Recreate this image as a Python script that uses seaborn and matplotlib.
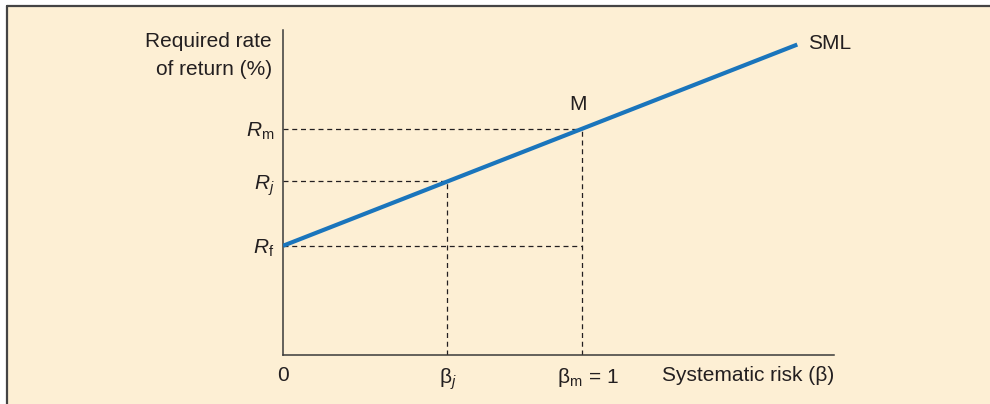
import numpy as np
import pandas as pd
import matplotlib.pyplot as plt
import matplotlib.lines as mlines
import matplotlib.patches as mpatches
import matplotlib.transforms as mtransforms
import seaborn as sns

# security market line values
beta_line = [0.0, 1.72]
rf = 5.6
rm = 11.6
beta_j = 0.55
beta_m = 1.0
r_j = rf + (rm - rf) * beta_j
sml_return = [rf + (rm - rf) * b for b in beta_line]

x_ticks = [0, beta_j, beta_m]
x_tick_labels = ['0', r'$\mathrm{\beta}_j$', r'$\mathrm{\beta}_{\mathrm{m}}\,=\,1$']
y_ticks = [rf, r_j, rm]
y_tick_labels = [r'$R_{\mathrm{f}}$', r'$R_j$', r'$R_{\mathrm{m}}$']

sns.set_theme(style='white')
plt.rcParams['font.family'] = ['Liberation Sans', 'DejaVu Sans']
plt.rcParams['mathtext.fontset'] = 'custom'
plt.rcParams['mathtext.rm'] = 'Liberation Sans'
plt.rcParams['mathtext.it'] = 'Liberation Sans:italic'
plt.rcParams['mathtext.bf'] = 'Liberation Sans:bold'

text_col = '#231f20'
bg = '#fdefd4'
W, H = 990, 404
fs = 15

fig = plt.figure(figsize=(9.9, 4.04), dpi=100, facecolor='white')

# cream panel with dark rule on top and left
fig.patches.append(mpatches.Rectangle((7 / W, 0), 1 - 7 / W, 1 - 6 / H, transform=fig.transFigure,
                                      facecolor=bg, edgecolor='none', zorder=-10))
fig.lines.append(mlines.Line2D([7 / W, 1], [1 - 6 / H, 1 - 6 / H], transform=fig.transFigure,
                               color='#444444', lw=1.6, zorder=-5))
fig.lines.append(mlines.Line2D([7 / W, 7 / W], [0, 1 - 6 / H], transform=fig.transFigure,
                               color='#444444', lw=1.6, zorder=-5))

ax = fig.add_axes([283 / W, (H - 355) / H, (834 - 283) / W, (355 - 30) / H])
ax.set_facecolor('none')
ax.patch.set_alpha(0)

x_px = 299.0
y_px = 19.5
ax.set_xlim(0, (834 - 283) / x_px)
ax.set_ylim(0, (355 - 30) / y_px)

# dashed guide lines
dash = dict(color=text_col, lw=0.9, ls=(0, (4, 3)))
ax.plot([0, beta_m], [rm, rm], **dash)
ax.plot([0, beta_j], [r_j, r_j], **dash)
ax.plot([0, beta_m], [rf, rf], **dash)
ax.plot([beta_j, beta_j], [0, r_j], **dash)
ax.plot([beta_m, beta_m], [0, rm], **dash)

sml = pd.DataFrame({'beta': beta_line, 'ret': sml_return})
sns.lineplot(data=sml, x='beta', y='ret', ax=ax, color='#1a75bc', lw=3.0,
             solid_capstyle='butt', zorder=3)

sns.despine(ax=ax)
for side in ['left', 'bottom']:
    ax.spines[side].set_color('#3a3a3a')
    ax.spines[side].set_linewidth(1.1)

ax.set_xticks(x_ticks)
ax.set_xticklabels(x_tick_labels, fontsize=fs, color=text_col)
ax.set_yticks(y_ticks)
ax.set_yticklabels(y_tick_labels, fontsize=fs, color=text_col)
ax.tick_params(axis='x', length=0, pad=8)
ax.tick_params(axis='y', length=0, pad=6)
# the beta_m label sits a little right of its tick in the original
lab = ax.get_xticklabels()[2]
lab.set_transform(lab.get_transform() + mtransforms.ScaledTranslation(6 / 100, 0, fig.dpi_scale_trans))
ax.set_xlabel('')
ax.set_ylabel('')

ax.text(1.0, -0.062, 'Systematic risk (β)', transform=ax.transAxes, ha='right', va='center',
        fontsize=fs, color=text_col)
ax.text(-0.02, 0.995, 'Required rate\nof return (%)', transform=ax.transAxes, ha='right', va='top',
        fontsize=fs, color=text_col, linespacing=1.65)
ax.text(beta_line[1] + 0.035, sml_return[1] + 0.05, 'SML', ha='left', va='center',
        fontsize=fs, color=text_col)
ax.text(beta_m - 0.013, rm + 1.25, 'M', ha='center', va='center', fontsize=fs, color=text_col)

fig.savefig('out.png', dpi=100, facecolor='white')
